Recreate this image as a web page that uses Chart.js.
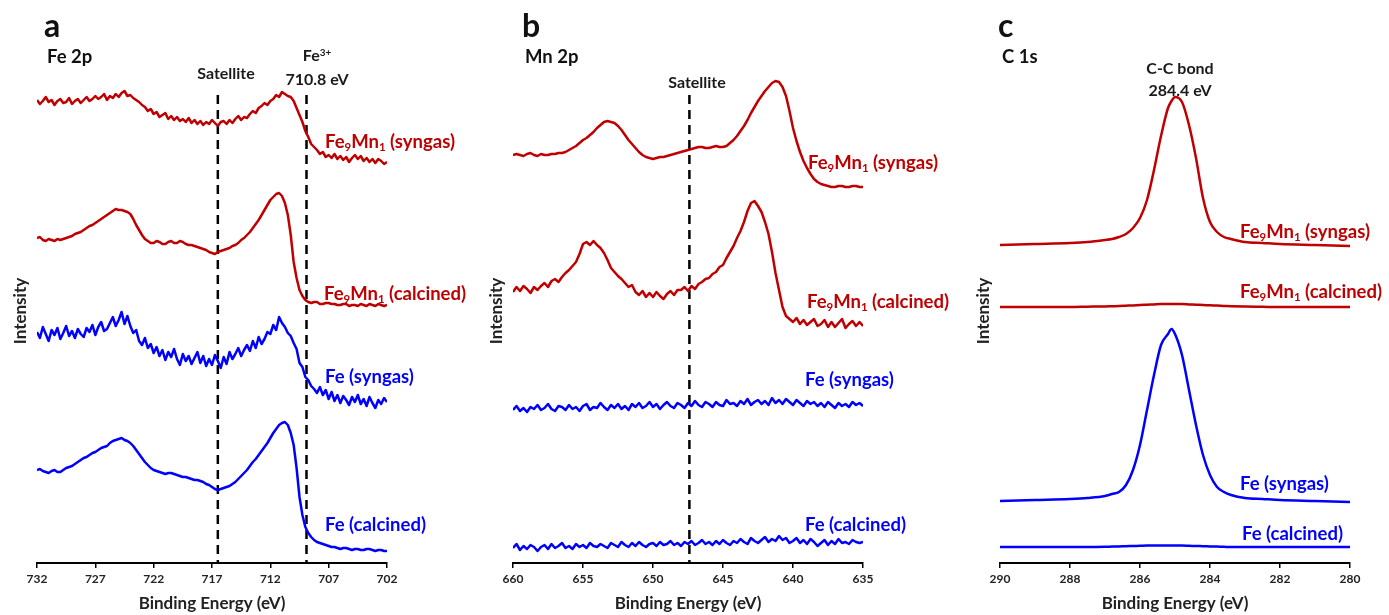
<!DOCTYPE html>
<html>
<head>
<meta charset="utf-8">
<script src="https://cdn.jsdelivr.net/npm/chart.js@4.4.0/dist/chart.umd.min.js"></script>
<style>
  html, body { margin: 0; padding: 0; background: #fff; }
  #page { position: relative; width: 1389px; height: 615px; overflow: hidden; font-family: Lato, "Open Sans", sans-serif; }
  canvas.panel { position: absolute; top: 0; }
  .txt { position: absolute; white-space: nowrap; line-height: 1; }
  .ctr { transform: translateX(-50%); text-align: center; }
  .letter { font-size: 32px; font-weight: bold; color: #111; }
  .elem { font-size: 18.5px; font-weight: bold; color: #111; }
  .note { font-size: 16px; font-weight: bold; color: #1a1a1a; }
  .lab { font-size: 18.5px; font-weight: bold; }
  .red { color: #C00000; }
  .blue { color: #0000FF; }
  sub { font-size: 0.62em; vertical-align: baseline; position: relative; top: 0.28em; }
  sup { font-size: 0.62em; vertical-align: baseline; position: relative; top: -0.5em; }
</style>
</head>
<body>
<div id="page">
  <canvas id="chartA" class="panel" width="407" height="615" style="left:0px"></canvas>
  <canvas id="chartB" class="panel" width="407" height="615" style="left:476px"></canvas>
  <canvas id="chartC" class="panel" width="407" height="615" style="left:963px"></canvas>

  <!-- panel a -->
  <div class="txt letter" style="left:44px;top:9px">a</div>
  <div class="txt elem" style="left:47px;top:47px">Fe 2p</div>
  <div class="txt note ctr" style="left:226px;top:65px">Satellite</div>
  <div class="txt note ctr" style="left:317px;top:44px;line-height:21px">Fe<sup>3+</sup><br>710.8 eV</div>
  <div class="txt lab red" style="left:325px;top:132px">Fe<sub>9</sub>Mn<sub>1</sub> (syngas)</div>
  <div class="txt lab red" style="left:324px;top:284px">Fe<sub>9</sub>Mn<sub>1</sub> (calcined)</div>
  <div class="txt lab blue" style="left:325px;top:367px">Fe (syngas)</div>
  <div class="txt lab blue" style="left:325px;top:515px">Fe (calcined)</div>

  <!-- panel b -->
  <div class="txt letter" style="left:522px;top:9px">b</div>
  <div class="txt elem" style="left:525px;top:47px">Mn 2p</div>
  <div class="txt note ctr" style="left:697px;top:74px">Satellite</div>
  <div class="txt lab red" style="left:808px;top:153px">Fe<sub>9</sub>Mn<sub>1</sub> (syngas)</div>
  <div class="txt lab red" style="left:807px;top:292px">Fe<sub>9</sub>Mn<sub>1</sub> (calcined)</div>
  <div class="txt lab blue" style="left:805px;top:370px">Fe (syngas)</div>
  <div class="txt lab blue" style="left:805px;top:515px">Fe (calcined)</div>

  <!-- panel c -->
  <div class="txt letter" style="left:998px;top:9px">c</div>
  <div class="txt elem" style="left:1002px;top:47px">C 1s</div>
  <div class="txt note ctr" style="left:1180px;top:57px;line-height:22px">C-C bond<br>284.4 eV</div>
  <div class="txt lab red" style="left:1240px;top:222px">Fe<sub>9</sub>Mn<sub>1</sub> (syngas)</div>
  <div class="txt lab red" style="left:1240px;top:282px">Fe<sub>9</sub>Mn<sub>1</sub> (calcined)</div>
  <div class="txt lab blue" style="left:1240px;top:474px">Fe (syngas)</div>
  <div class="txt lab blue" style="left:1242px;top:524px">Fe (calcined)</div>
</div>

<script>
// ---- Fe 2p (panel a) ----
const energyA = [
    732, 731.75, 731.5, 731.25, 731, 730.75, 730.5, 730.25,
    730, 729.75, 729.5, 729.25, 729, 728.75, 728.5, 728.25,
    728, 727.75, 727.5, 727.25, 727, 726.75, 726.5, 726.25,
    726, 725.75, 725.5, 725.25, 725, 724.75, 724.5, 724.25,
    724, 723.75, 723.5, 723.25, 723, 722.75, 722.5, 722.25,
    722, 721.75, 721.5, 721.25, 721, 720.75, 720.5, 720.25,
    720, 719.75, 719.5, 719.25, 719, 718.75, 718.5, 718.25,
    718, 717.75, 717.5, 717.25, 717, 716.75, 716.5, 716.25,
    716, 715.75, 715.5, 715.25, 715, 714.75, 714.5, 714.25,
    714, 713.75, 713.5, 713.25, 713, 712.75, 712.5, 712.25,
    712, 711.75, 711.5, 711.25, 711, 710.75, 710.5, 710.25,
    710, 709.75, 709.5, 709.25, 709, 708.75, 708.5, 708.25,
    708, 707.75, 707.5, 707.25, 707, 706.75, 706.5, 706.25,
    706, 705.75, 705.5, 705.25, 705, 704.75, 704.5, 704.25,
    704, 703.75, 703.5, 703.25, 703, 702.75, 702.5, 702.25,
    702];
const feMnSyngasA = [
    463, 459, 462, 466, 461, 463, 458, 462,
    464, 460, 461, 465, 459, 462, 464, 460,
    463, 466, 462, 464, 467, 464, 466, 469,
    463, 467, 465, 469, 466, 470, 472, 467,
    468, 465, 463, 461, 458, 456, 452, 454,
    449, 451, 446, 448, 450, 444, 447, 443,
    446, 442, 444, 441, 445, 440, 443, 439,
    442, 438, 441, 439, 443, 440, 437, 441,
    442, 439, 443, 440, 444, 447, 443, 446,
    445, 449, 452, 450, 455, 457, 460, 458,
    462, 464, 468, 466, 471, 469, 467, 466,
    462, 455, 448, 441, 432, 426, 419, 416,
    413, 409, 411, 406, 408, 405, 409, 404,
    407, 403, 406, 401, 405, 408, 404, 407,
    402, 405, 401, 404, 400, 404, 402, 399,
    401];
const feMnCalcinedA = [
    325, 326, 323, 322, 324, 323, 322, 324,
    323, 324, 325, 326, 327, 329, 330, 331,
    333, 335, 337, 338, 340, 342, 344, 346,
    348, 350, 352, 354, 353, 353, 352, 351,
    349, 344, 338, 333, 328, 324, 322, 320,
    320, 322, 321, 319, 319, 321, 322, 320,
    320, 322, 321, 319, 318, 318, 317, 316,
    315, 314, 313, 311, 310, 309, 311, 312,
    313, 314, 315, 317, 318, 320, 323, 325,
    328, 331, 335, 339, 343, 348, 353, 358,
    363, 366, 369, 370, 367, 360, 348, 328,
    301, 285, 273, 267, 263, 261, 260, 261,
    261, 259, 259, 260, 260, 259, 259, 258,
    258, 259, 259, 257, 258, 258, 257, 259,
    258, 257, 259, 258, 257, 259, 258, 257,
    258];
const feSyngasA = [
    231, 225, 236, 229, 222, 233, 228, 235,
    224, 230, 237, 227, 232, 225, 234, 229,
    226, 235, 231, 238, 228, 236, 241, 232,
    234, 240, 246, 237, 243, 251, 239, 247,
    237, 230, 233, 222, 218, 225, 215, 219,
    210, 216, 207, 213, 203, 211, 206, 214,
    204, 198, 209, 202, 207, 199, 205, 211,
    200, 207, 197, 204, 198, 208, 202, 195,
    206, 199, 211, 204, 209, 215, 207, 213,
    218, 212, 222, 215, 226, 219, 224, 231,
    229, 238, 233, 246, 240, 236, 230, 227,
    220, 214, 200, 196, 186, 183, 177, 174,
    170, 176, 168, 173, 164, 171, 162, 168,
    160, 167, 163, 158, 166, 161, 168, 159,
    164, 157, 166, 160, 155, 163, 159, 165,
    161];
const feCalcinedA = [
    93, 94, 92, 91, 90, 92, 93, 91,
    91, 93, 95, 96, 97, 99, 101, 103,
    105, 106, 108, 110, 111, 113, 115, 116,
    117, 120, 122, 123, 124, 125, 123, 122,
    120, 117, 113, 109, 105, 101, 98, 95,
    93, 92, 91, 90, 89, 90, 90, 89,
    88, 87, 86, 86, 85, 84, 83, 83,
    82, 81, 79, 78, 76, 74, 73, 74,
    75, 76, 77, 79, 81, 84, 87, 90,
    93, 97, 101, 104, 108, 112, 116, 120,
    125, 130, 134, 138, 140, 141, 138, 130,
    118, 95, 66, 48, 36, 30, 26, 23,
    21, 20, 19, 18, 17, 16, 16, 15,
    14, 15, 15, 14, 13, 14, 14, 13,
    13, 14, 14, 13, 12, 13, 13, 12,
    12];
const ticksA = [732, 727, 722, 717, 712, 707, 702];
const markersA = [716.5, 708.9];

// ---- Mn 2p (panel b) ----
const energyB = [
    660, 659.75, 659.5, 659.25, 659, 658.75, 658.5, 658.25,
    658, 657.75, 657.5, 657.25, 657, 656.75, 656.5, 656.25,
    656, 655.75, 655.5, 655.25, 655, 654.75, 654.5, 654.25,
    654, 653.75, 653.5, 653.25, 653, 652.75, 652.5, 652.25,
    652, 651.75, 651.5, 651.25, 651, 650.75, 650.5, 650.25,
    650, 649.75, 649.5, 649.25, 649, 648.75, 648.5, 648.25,
    648, 647.75, 647.5, 647.25, 647, 646.75, 646.5, 646.25,
    646, 645.75, 645.5, 645.25, 645, 644.75, 644.5, 644.25,
    644, 643.75, 643.5, 643.25, 643, 642.75, 642.5, 642.25,
    642, 641.75, 641.5, 641.25, 641, 640.75, 640.5, 640.25,
    640, 639.75, 639.5, 639.25, 639, 638.75, 638.5, 638.25,
    638, 637.75, 637.5, 637.25, 637, 636.75, 636.5, 636.25,
    636, 635.75, 635.5, 635.25,
    635];
const feMnSyngasB = [
    408, 409, 408, 407, 409, 410, 408, 407,
    409, 408, 408, 409, 409, 410, 410, 411,
    413, 415, 417, 420, 423, 425, 428, 431,
    435, 438, 441, 442, 441, 440, 437, 433,
    428, 423, 419, 415, 411, 408, 406, 405,
    404, 405, 406, 406, 407, 408, 409, 410,
    411, 412, 413, 414, 415, 416, 416, 415,
    415, 416, 417, 416, 416, 417, 420, 423,
    427, 432, 437, 443, 450, 456, 462, 467,
    472, 476, 480, 482, 481, 476, 467, 452,
    435, 422, 411, 402, 395, 389, 384, 381,
    379, 378, 377, 376, 376, 377, 377, 376,
    376, 377, 377, 376,
    376];
const feMnCalcinedB = [
    271, 276, 272, 277, 274, 270, 276, 273,
    277, 280, 276, 282, 284, 281, 286, 290,
    293, 297, 301, 309, 319, 321, 318, 322,
    318, 315, 310, 303, 295, 291, 287, 284,
    280, 276, 278, 271, 268, 272, 266, 270,
    266, 271, 267, 264, 269, 272, 268, 273,
    273, 276, 272, 277, 274, 279, 281, 284,
    285, 289, 291, 296, 298, 305, 311, 317,
    325, 332, 341, 352, 360, 362, 357, 351,
    341, 329, 311, 290, 273, 256, 247, 244,
    241, 245, 239, 243, 238, 241, 244, 237,
    239, 243, 236, 241, 236, 240, 244, 235,
    239, 242, 237, 241,
    237];
const feSyngasB = [
    153, 157, 152, 155, 151, 156, 154, 158,
    153, 155, 159, 154, 152, 157, 156, 153,
    158, 154, 156, 152, 157, 159, 153, 156,
    155, 160, 156, 153, 158, 155, 159, 154,
    157, 153, 159, 156, 160, 155, 157, 161,
    156, 159, 154, 158, 161, 157, 155, 160,
    158, 155, 160, 157, 162, 158, 156, 161,
    159, 156, 161, 158, 157, 163, 159, 160,
    157, 162, 159, 164, 158, 161, 163, 159,
    162, 158, 165, 160, 163, 159, 164, 161,
    158, 163, 160, 157, 162, 159, 161, 157,
    160, 156, 161, 158, 155, 160, 157, 159,
    156, 161, 158, 160,
    157];
const feCalcinedB = [
    15, 19, 13, 17, 14, 18, 16, 12,
    16, 18, 14, 19, 15, 17, 20, 15,
    17, 14, 19, 16, 18, 15, 20, 17,
    16, 19, 17, 15, 20, 18, 16, 21,
    18, 16, 20, 17, 21, 18, 16, 19,
    20, 17, 21, 18, 19, 22, 18, 20,
    17, 21, 19, 22, 18, 20, 23, 19,
    21, 18, 22, 19, 23, 20, 18, 22,
    20, 24, 21, 19, 25, 22, 20, 23,
    26, 21, 24, 22, 27, 23, 25, 20,
    22, 25, 20, 23, 19, 24, 21, 17,
    20, 23, 18, 22, 19, 24, 20, 21,
    19, 23, 21, 20,
    21];
const ticksB = [660, 655, 650, 645, 640, 635];
const markersB = [647.4];

// ---- C 1s (panel c) ----
const energyC = [290, 289, 288, 287.5, 287, 286.8, 286.6, 286.4, 286.2, 286.0,
    285.8, 285.6, 285.4, 285.2, 285.1, 285.0, 284.8, 284.6, 284.4, 284.2,
    284.0, 283.8, 283.6, 283.4, 283.0, 282.5, 282, 281, 280];
const feMnSyngasC = [318, 319, 320, 321, 323, 324, 326, 329, 335, 345,
    363, 393, 427, 455, 462, 466, 461, 438, 405, 365,
    341, 331, 326, 324, 321, 320, 319, 318, 317];
const feMnCalcinedC = [256, 256, 256, 256.3, 256.6, 256.8, 257, 257.3, 257.6, 258,
    258.3, 258.6, 258.9, 259, 259, 259, 258.9, 258.6, 258.3, 258,
    257.7, 257.4, 257.1, 256.8, 256.4, 256.2, 256, 256, 256];
const feSyngasC = [62, 63, 64, 65, 67, 69, 71, 78, 93, 118,
    153, 188, 218, 229, 234, 229, 208, 173, 138, 108,
    88, 76, 71, 68, 65, 64, 63, 62, 61];
const feCalcinedC = [16, 16, 16, 16, 16.2, 16.4, 16.6, 16.8, 17, 17.2,
    17.4, 17.5, 17.6, 17.6, 17.6, 17.5, 17.4, 17.2, 17, 16.8,
    16.6, 16.4, 16.2, 16, 16, 16, 16, 16, 16];
const ticksC = [290, 288, 286, 284, 282, 280];

const RED = '#C00000';
const BLUE = '#0000FF';
const Y_MAX = 504;
const MARKER_TOP = 468;

function makePanel(canvasId, energies, series, ticks, markers, smooth) {
    const datasets = series.map(s => ({
        data: energies.map((e, i) => ({ x: e, y: s.values[i] })),
        borderColor: s.color,
        borderWidth: 2.5,
        borderJoinStyle: 'round',
        pointRadius: 0,
        fill: false,
        tension: 0,
        cubicInterpolationMode: smooth ? 'monotone' : 'default'
    }));

    // dashed reference lines
    markers.forEach(m => {
        datasets.push({
            data: [{ x: m, y: MARKER_TOP }, { x: m, y: 0 }],
            borderColor: '#000',
            borderWidth: 2.5,
            borderDash: [9, 6],
            pointRadius: 0,
            fill: false
        });
    });

    return new Chart(document.getElementById(canvasId), {
        type: 'line',
        data: { datasets },
        options: {
            responsive: false,
            animation: false,
            layout: { padding: { left: 6, right: 20, top: 59, bottom: 0 } },
            plugins: { legend: { display: false }, tooltip: { enabled: false } },
            scales: {
                x: {
                    type: 'linear',
                    reverse: true,
                    min: Math.min(...ticks),
                    max: Math.max(...ticks),
                    afterBuildTicks: scale => { scale.ticks = ticks.map(v => ({ value: v })); },
                    afterFit: scale => { scale.height = 52; },
                    grid: { display: true, drawOnChartArea: false, drawTicks: true, tickLength: 5, color: '#000', lineWidth: 1.5 },
                    border: { display: true, color: '#000', width: 2 },
                    ticks: { color: '#222', font: { family: 'Lato', size: 12, weight: 'bold' }, padding: 4, maxRotation: 0, autoSkip: false },
                    title: { display: true, text: 'Binding Energy (eV)', color: '#222', font: { family: 'Lato', size: 17, weight: 'bold' }, padding: { top: 0, bottom: 1 } }
                },
                y: {
                    min: 0,
                    max: Y_MAX,
                    afterFit: scale => { scale.width = 31; },
                    ticks: { display: false },
                    grid: { display: false },
                    border: { display: false },
                    title: { display: true, text: 'Intensity', color: '#222', font: { family: 'Lato', size: 17, weight: 'bold' }, padding: { top: 4, bottom: 0 } }
                }
            }
        }
    });
}

makePanel('chartA', energyA, [
    { values: feMnSyngasA, color: RED },
    { values: feMnCalcinedA, color: RED },
    { values: feSyngasA, color: BLUE },
    { values: feCalcinedA, color: BLUE }
], ticksA, markersA, false);

makePanel('chartB', energyB, [
    { values: feMnSyngasB, color: RED },
    { values: feMnCalcinedB, color: RED },
    { values: feSyngasB, color: BLUE },
    { values: feCalcinedB, color: BLUE }
], ticksB, markersB, false);

makePanel('chartC', energyC, [
    { values: feMnSyngasC, color: RED },
    { values: feMnCalcinedC, color: RED },
    { values: feSyngasC, color: BLUE },
    { values: feCalcinedC, color: BLUE }
], ticksC, [], true);
</script>
</body>
</html>
